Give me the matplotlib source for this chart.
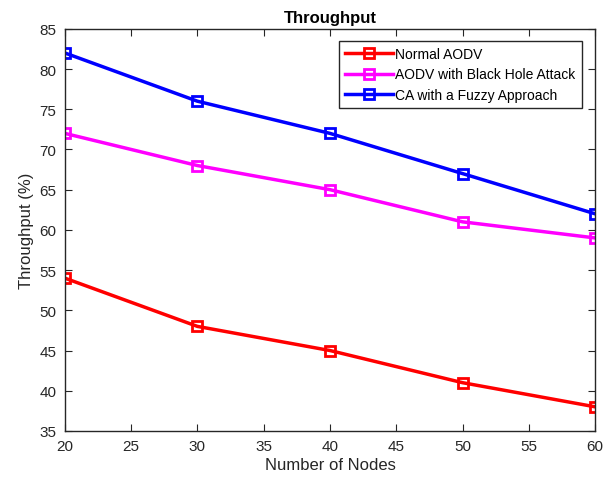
import matplotlib
matplotlib.use("Agg")
from matplotlib import pyplot as plt

nodes = [20, 30, 40, 50, 60]
normal_aodv = [54, 48, 45, 41, 38]
black_hole = [72, 68, 65, 61, 59]
fuzzy = [82, 76, 72, 67, 62]

plt.rcParams['font.family'] = ['Liberation Sans', 'DejaVu Sans']

fig = plt.figure(figsize=(6.06, 4.81), dpi=100)
ax = fig.add_axes([0.107, 0.102, 0.875, 0.836])

ax.plot(nodes, normal_aodv, color='#ff0000', lw=2.5, marker='s', ms=7,
        mfc='none', mew=2, label='Normal AODV')
ax.plot(nodes, black_hole, color='#ff00ff', lw=2.5, marker='s', ms=7,
        mfc='none', mew=2, label='AODV with Black Hole Attack')
ax.plot(nodes, fuzzy, color='#0000ff', lw=2.5, marker='s', ms=7,
        mfc='none', mew=2, label='CA with a Fuzzy Approach')

ax.set_xlim(20, 60)
ax.set_ylim(35, 85)
ax.set_xticks(range(20, 61, 5))
ax.set_yticks(range(35, 86, 5))
ax.tick_params(direction='in', top=True, right=True, labelsize=11, colors='#262626',
               length=5, pad=6)
for s in ax.spines.values():
    s.set_linewidth(1)
    s.set_color('#262626')

ax.set_xlabel('Number of Nodes', fontsize=12, color='#262626', labelpad=3)
ax.set_ylabel('Throughput (%)', fontsize=12, color='#262626', labelpad=4)
ax.set_title('Throughput', fontsize=12, fontweight='bold', pad=5)

leg = ax.legend(loc='upper right', bbox_to_anchor=(0.975, 0.97), fontsize=10,
                fancybox=False, framealpha=1, edgecolor='#262626',
                handlelength=3.4, borderpad=0.45, labelspacing=0.45, handletextpad=0.2,
                borderaxespad=0)
leg.get_frame().set_linewidth(1)

fig.savefig('out.png', dpi=100)
